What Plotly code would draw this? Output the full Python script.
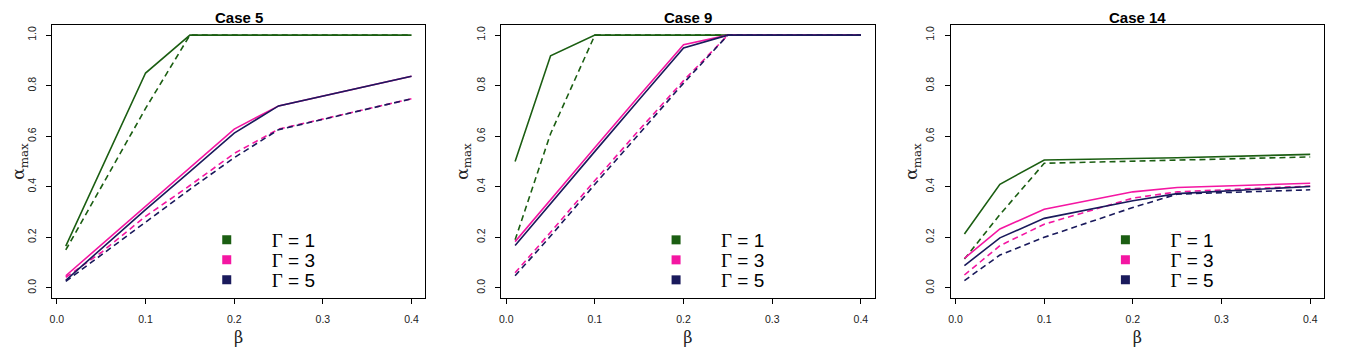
import plotly.graph_objects as go

# beta grid shared by all three cases
beta = [0.01, 0.05, 0.1, 0.15, 0.2, 0.25, 0.4]

case_names = ["Case 5", "Case 9", "Case 14"]

# Case 5
c5_g1_solid = [0.165, 0.47, 0.85, 1.0, 1.0, 1.0, 1.0]
c5_g1_dash = [0.15, 0.40, 0.71, 1.0, 1.0, 1.0, 1.0]
c5_g3_solid = [0.048, 0.17, 0.325, 0.475, 0.628, 0.72, 0.837]
c5_g3_dash = [0.042, 0.14, 0.283, 0.405, 0.532, 0.628, 0.748]
c5_g5_solid = [0.03, 0.155, 0.31, 0.46, 0.612, 0.72, 0.837]
c5_g5_dash = [0.026, 0.13, 0.26, 0.39, 0.515, 0.626, 0.748]

# Case 9
c9_g1_solid = [0.50, 0.918, 1.0, 1.0, 1.0, 1.0, 1.0]
c9_g1_dash = [0.19, 0.61, 1.0, 1.0, 1.0, 1.0, 1.0]
c9_g3_solid = [0.183, 0.35, 0.555, 0.76, 0.962, 1.0, 1.0]
c9_g3_dash = [0.06, 0.22, 0.425, 0.625, 0.82, 1.0, 1.0]
c9_g5_solid = [0.168, 0.335, 0.54, 0.745, 0.949, 1.0, 1.0]
c9_g5_dash = [0.048, 0.205, 0.41, 0.61, 0.81, 1.0, 1.0]

# Case 14
c14_g1_solid = [0.213, 0.41, 0.506, 0.509, 0.512, 0.515, 0.528]
c14_g1_dash = [0.114, 0.29, 0.493, 0.497, 0.50, 0.505, 0.518]
c14_g3_solid = [0.117, 0.233, 0.311, 0.345, 0.38, 0.397, 0.414]
c14_g3_dash = [0.051, 0.167, 0.252, 0.305, 0.355, 0.38, 0.403]
c14_g5_solid = [0.088, 0.198, 0.275, 0.31, 0.345, 0.373, 0.401]
c14_g5_dash = [0.029, 0.13, 0.20, 0.26, 0.318, 0.371, 0.388]

gamma_values = ["1", "3", "5"]
colors = ["#1b5e12", "#f416a2", "#1a1a5c"]

cases = [
    [(c5_g1_solid, c5_g1_dash), (c5_g3_solid, c5_g3_dash), (c5_g5_solid, c5_g5_dash)],
    [(c9_g1_solid, c9_g1_dash), (c9_g3_solid, c9_g3_dash), (c9_g5_solid, c9_g5_dash)],
    [(c14_g1_solid, c14_g1_dash), (c14_g3_solid, c14_g3_dash), (c14_g5_solid, c14_g5_dash)],
]

# page has an 8px body margin, so the figure is laid out in coords shifted by 8
W, H = 1342, 342
panel_left = [42, 492, 942]
panel_w = 374
plot_top, plot_bot = 17, 290
legend_rows = [232, 252, 272]

fig = go.Figure()

for i, series in enumerate(cases):
    sfx = "" if i == 0 else str(i + 1)
    xa, ya = "x" + sfx, "y" + sfx
    for (solid, dash), col in zip(series, colors):
        fig.add_trace(go.Scatter(x=beta, y=solid, mode="lines", xaxis=xa, yaxis=ya,
                                 line=dict(color=col, width=1.6), showlegend=False, hoverinfo="skip"))
        fig.add_trace(go.Scatter(x=beta, y=dash, mode="lines", xaxis=xa, yaxis=ya,
                                 line=dict(color=col, width=1.6, dash="6px,4px"), showlegend=False, hoverinfo="skip"))
    # one legend per row so the spacing can match the reference
    for k, (gv, col) in enumerate(zip(gamma_values, colors)):
        n = i * 3 + k + 1
        leg = "legend" if n == 1 else "legend" + str(n)
        txt = '<span style="font-family:Liberation Serif">Γ</span> = ' + gv
        fig.add_trace(go.Scatter(x=[None], y=[None], mode="markers", xaxis=xa, yaxis=ya,
                                 marker=dict(symbol="square", size=9, color=col),
                                 name=txt, legend=leg, showlegend=True))

axis_common = dict(showline=True, linecolor="black", linewidth=1, mirror=True,
                   ticks="outside", ticklen=5, tickcolor="black", showgrid=False, zeroline=False,
                   tickfont=dict(family="Liberation Sans, Arial", size=10.5, color="#222"))

layout = dict(width=W, height=H, margin=dict(l=0, r=0, t=0, b=0),
              paper_bgcolor="white", plot_bgcolor="white", annotations=[])

for i in range(3):
    sfx = "" if i == 0 else str(i + 1)
    x0 = panel_left[i] / W
    x1 = (panel_left[i] + panel_w) / W
    layout["xaxis" + sfx] = dict(axis_common, domain=[x0, x1], range=[-0.0056, 0.4156],
                                 tickvals=[0.0, 0.1, 0.2, 0.3, 0.4], ticktext=["0.0", "0.1", "0.2", "0.3", "0.4"],
                                 ticklabelstandoff=6, anchor="y" + sfx,
                                 title=dict(text="β", standoff=8,
                                            font=dict(family="DejaVu Serif", size=16, color="#222")))
    layout["yaxis" + sfx] = dict(axis_common, domain=[1 - plot_bot / H, 1 - plot_top / H], range=[-0.04, 1.04],
                                 tickvals=[0.0, 0.2, 0.4, 0.6, 0.8, 1.0],
                                 ticktext=["0.0", "0.2", "0.4", "0.6", "0.8", "1.0"],
                                 tickangle=-90, ticklabelstandoff=6, anchor="x" + sfx,
                                 title=dict(text="α<sub>max</sub>", standoff=2,
                                            font=dict(family="DejaVu Serif", size=17, color="#222")))
    for k in range(3):
        n = i * 3 + k + 1
        leg = "legend" if n == 1 else "legend" + str(n)
        layout[leg] = dict(x=(panel_left[i] + 130) / W, y=1 - legend_rows[k] / H, xanchor="left", yanchor="middle",
                           bgcolor="rgba(0,0,0,0)", itemwidth=80,
                           font=dict(family="Liberation Sans, Arial", size=19, color="black"))
    layout["annotations"].append(dict(text="<b>" + case_names[i] + "</b>", xref="x" + sfx + " domain", yref="paper",
                                      x=0.5, y=1, showarrow=False, yanchor="top", borderpad=0,
                                      font=dict(family="Liberation Sans, Arial", size=15, color="black")))

fig.update_layout(**layout)
fig.write_html("out.html")
